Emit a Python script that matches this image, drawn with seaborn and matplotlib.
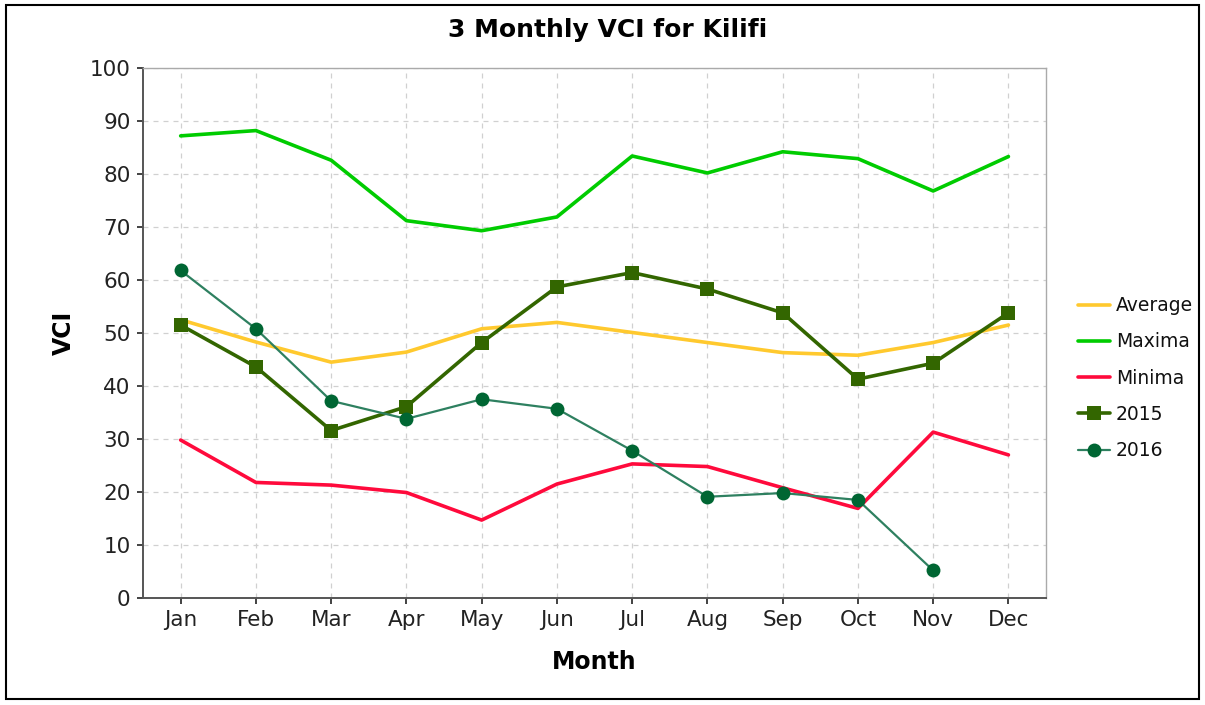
import matplotlib
matplotlib.use("Agg")
import matplotlib.pyplot as plt
import seaborn as sns
import numpy as np
import pandas as pd
from matplotlib.patches import Rectangle

months = ["Jan", "Feb", "Mar", "Apr", "May", "Jun", "Jul", "Aug", "Sep", "Oct", "Nov", "Dec"]
average = [52.5, 48.3, 44.5, 46.4, 50.8, 52.0, 50.1, 48.2, 46.3, 45.8, 48.2, 51.5]
maxima = [87.2, 88.2, 82.6, 71.2, 69.3, 71.9, 83.4, 80.2, 84.2, 82.9, 76.8, 83.3]
minima = [29.8, 21.8, 21.3, 19.9, 14.7, 21.5, 25.3, 24.8, 20.8, 16.9, 31.3, 27.0]
y2015 = [51.5, 43.6, 31.6, 36.1, 48.2, 58.7, 61.4, 58.3, 53.8, 41.3, 44.3, 53.8]
y2016 = [61.8, 50.8, 37.2, 33.8, 37.5, 35.7, 27.8, 19.1, 19.8, 18.5, 5.2, np.nan]

sns.set_theme(style="white")
plt.rcParams['font.family'] = ['DejaVu Sans']

fig = plt.figure(figsize=(12.05, 7.05), dpi=100)
ax = fig.add_axes([0.1187, 0.1518, 0.7494, 0.7517])

x = np.arange(len(months))
sns.lineplot(x=x, y=average, ax=ax, color="#FFC92E", linewidth=2.6, label="Average")
sns.lineplot(x=x, y=maxima, ax=ax, color="#00CC00", linewidth=2.6, label="Maxima")
sns.lineplot(x=x, y=minima, ax=ax, color="#FF0A3C", linewidth=2.6, label="Minima")
sns.lineplot(x=x, y=y2015, ax=ax, color="#336600", linewidth=2.6, marker="s",
             markersize=10, markeredgewidth=0, label="2015")
d16 = pd.DataFrame({"x": x, "y": y2016}).dropna()
sns.lineplot(data=d16, x="x", y="y", ax=ax, color="#2E8060", linewidth=1.6, marker="o",
             markersize=10, markerfacecolor="#006633", markeredgewidth=0, label="2016")

ax.set_xlim(-0.5, 11.5)
ax.set_ylim(0, 100)
ax.set_xticks(x)
ax.set_xticklabels(months)
ax.set_yticks(np.arange(0, 101, 10))
ax.tick_params(axis="both", labelsize=15.5, colors="#222222", length=4, width=1.2,
               direction="out", bottom=True, left=True, pad=5)
ax.grid(True, linestyle=(0, (4, 4)), color="#D0D0D0", linewidth=0.9)
for s in ["left", "bottom"]:
    ax.spines[s].set_color("#555555")
    ax.spines[s].set_linewidth(1.4)
for s in ["top", "right"]:
    ax.spines[s].set_color("#AAAAAA")
    ax.spines[s].set_linewidth(1.0)

fig.text(0.5045, 0.957, "3 Monthly VCI for Kilifi", fontsize=18, fontweight="bold",
         color="black", ha="center", va="center")
ax.set_xlabel("Month", fontsize=17, fontweight="bold", color="black", labelpad=14)
ax.set_ylabel("VCI", fontsize=17, fontweight="bold", color="black", labelpad=10)

leg = ax.legend(loc="upper left", bbox_to_anchor=(0.8946, 0.580), bbox_transform=fig.transFigure,
                frameon=False, fontsize=13.5, handlelength=1.7, labelspacing=0.92,
                handletextpad=0.32, borderpad=0, borderaxespad=0)
for t in leg.get_texts():
    t.set_color("#111111")

fig.patches.append(Rectangle((0.005, 0.008), 0.99, 0.985, transform=fig.transFigure,
                             fill=False, edgecolor="black", linewidth=1.5))

fig.savefig("out.png", dpi=100)
